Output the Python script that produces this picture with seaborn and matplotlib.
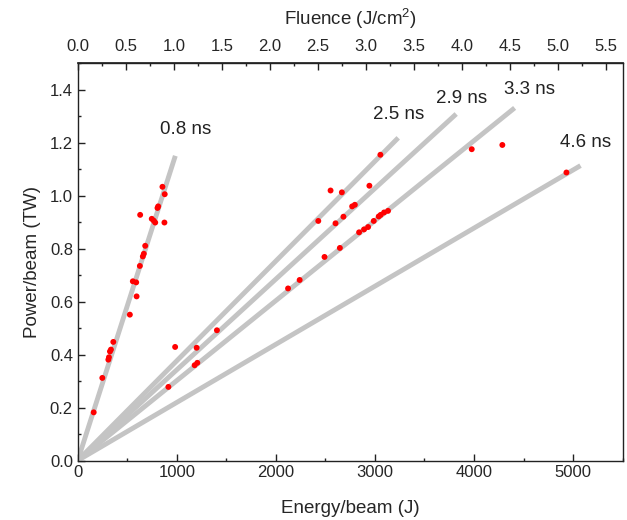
import matplotlib
matplotlib.use("Agg")
import matplotlib.pyplot as plt
import seaborn as sns
import pandas as pd
from matplotlib.ticker import MultipleLocator

# pulse-duration guide lines (from origin to end point)
durations = ["0.8 ns", "2.5 ns", "2.9 ns", "3.3 ns", "4.6 ns"]
line_end_energy = [985, 3235, 3820, 4410, 5075]
line_end_power = [1.151, 1.219, 1.309, 1.332, 1.114]
label_energy = [1087, 3239, 3873, 4557, 5121]
label_power = [1.249, 1.306, 1.366, 1.400, 1.200]

# measured shots
energy = [161, 248, 309, 315, 325, 335, 359, 526, 594, 556, 590, 627, 657, 667,
          681, 630, 747, 767, 782, 875, 805, 812, 855, 878,
          983, 915, 1200, 1405, 1180, 1207,
          3055, 2552, 2666, 2944, 2428, 2602, 2682, 2770, 2797, 3977, 4286, 4933,
          2123, 2240, 2491, 2646, 2840, 2890, 2931, 2988, 3038, 3058, 3092, 3132]
power = [0.182, 0.312, 0.381, 0.390, 0.412, 0.419, 0.448, 0.551, 0.620, 0.677,
         0.673, 0.735, 0.771, 0.781, 0.811, 0.928, 0.913, 0.906, 0.899, 0.899,
         0.954, 0.960, 1.034, 1.006,
         0.429, 0.278, 0.426, 0.492, 0.360, 0.369,
         1.155, 1.020, 1.013, 1.038, 0.905, 0.896, 0.921, 0.960, 0.966, 1.176,
         1.192, 1.088,
         0.650, 0.682, 0.769, 0.803, 0.862, 0.873, 0.882, 0.905, 0.922, 0.928,
         0.937, 0.943]

fluence_ticks = [0.0, 0.5, 1.0, 1.5, 2.0, 2.5, 3.0, 3.5, 4.0, 4.5, 5.0, 5.5]
area_cm2 = 970  # energy -> fluence conversion

sns.set_theme(style="ticks")
plt.rcParams["font.family"] = ["Liberation Sans", "DejaVu Sans"]
plt.rcParams["mathtext.fontset"] = "custom"
plt.rcParams["mathtext.rm"] = "Liberation Sans"
plt.rcParams["mathtext.it"] = "Liberation Sans:italic"

fig = plt.figure(figsize=(6.27, 5.2), dpi=100)
ax = fig.add_axes([0.124, 0.1144, 0.869, 0.7636])

for e, p in zip(line_end_energy, line_end_power):
    df_line = pd.DataFrame({"E": [0, e], "P": [0, p]})
    sns.lineplot(data=df_line, x="E", y="P", ax=ax, color="#c4c4c4",
                 linewidth=3.5, solid_capstyle="butt")

for name, e, p in zip(durations, label_energy, label_power):
    ax.text(e, p, name, fontsize=13.5, ha="center", va="center", color="#222222")

df_pts = pd.DataFrame({"E": energy, "P": power})
sns.scatterplot(data=df_pts, x="E", y="P", ax=ax, color="#ff0000", s=18,
                edgecolor="none", zorder=5)

ax.set_xlim(0, 5500)
ax.set_ylim(0, 1.5)
ax.set_xticks([0, 1000, 2000, 3000, 4000, 5000])
ax.xaxis.set_minor_locator(MultipleLocator(500))
ax.set_yticks([0.0, 0.2, 0.4, 0.6, 0.8, 1.0, 1.2, 1.4])
ax.set_yticklabels([f"{v:.1f}" for v in ax.get_yticks()])
ax.yaxis.set_minor_locator(MultipleLocator(0.1))
ax.tick_params(which="both", direction="in", labelsize=12, color="#222222",
               width=1.0, top=False, right=False)
ax.tick_params(which="major", length=5)
ax.tick_params(which="minor", length=2.5)
ax.set_xlabel("Energy/beam (J)", fontsize=13.5, labelpad=14)
ax.set_ylabel("Power/beam (TW)", fontsize=13.5, labelpad=6)
for sp in ax.spines.values():
    sp.set_linewidth(1.0)
    sp.set_color("#222222")
    sp.set_visible(True)

top = ax.secondary_xaxis("top", functions=(lambda x: x / area_cm2,
                                           lambda f: f * area_cm2))
top.set_xticks(fluence_ticks)
top.set_xticklabels([f"{v:.1f}" for v in fluence_ticks])
top.xaxis.set_minor_locator(MultipleLocator(0.25))
top.tick_params(which="both", direction="in", labelsize=12, color="#222222",
                width=1.0, pad=7)
top.tick_params(which="major", length=5)
top.tick_params(which="minor", length=2.5)
top.set_xlabel("Fluence (J/cm$^2$)", fontsize=13.5, labelpad=10)

fig.savefig("out.png", dpi=100)
